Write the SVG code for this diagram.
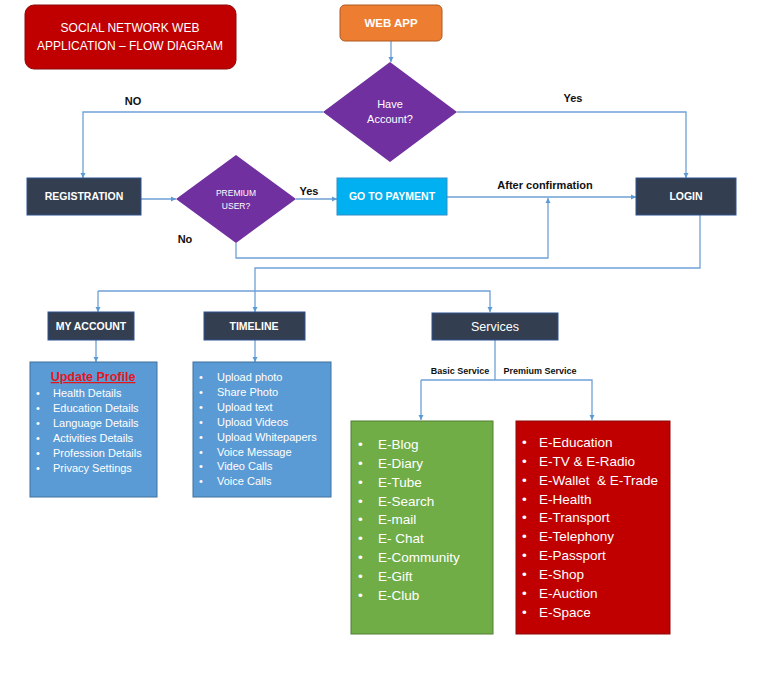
<svg xmlns="http://www.w3.org/2000/svg" width="768" height="677" viewBox="0 0 768 677">
<defs>
<marker id="ah" markerWidth="6" markerHeight="6" refX="5" refY="3" orient="auto" markerUnits="userSpaceOnUse">
<path d="M0,0.5 L5,3 L0,5.5 Z" fill="#5B9BD5"/>
</marker>
<style>
text{font-family:"Liberation Sans",Arial,sans-serif;}
.c{stroke:#6FA0D6;stroke-width:1.3;fill:none}
.a{marker-end:url(#ah)}
.w{fill:#fff;text-anchor:middle}
.b{font-weight:bold}
.lbl{fill:#111;font-weight:bold;font-size:11px;text-anchor:middle}
.dark{fill:#333F50;stroke:#2F528F;stroke-width:1}
.li{fill:#fff;font-size:11px}
.lg{fill:#fff;font-size:13.5px}
</style>
</defs>
<rect width="768" height="677" fill="#fff"/>

<g id="connectors">
<path class="c a" d="M391,41 V62"/>
<path class="c a" d="M323,112 H83 V178"/>
<path class="c a" d="M457,112 H686 V178"/>
<path class="c a" d="M141,199 H176"/>
<path class="c a" d="M296,199 H337"/>
<path class="c a" d="M447,197 H636"/>
<path class="c a" d="M236,243 V258 H548 V198"/>
<path class="c a" d="M700,215 V268 H255 V312"/>
<path class="c a" d="M98,291 H490 V312"/>
<path class="c a" d="M98,291 V312"/>
<path class="c a" d="M96,340 V362"/>
<path class="c a" d="M255,340 V362"/>
<path class="c" d="M495,340 V380"/>
<path class="c a" d="M421,380 H592 V420"/>
<path class="c a" d="M421,380 V420"/>
<text class="lbl" x="133" y="105">NO</text>
<text class="lbl" x="573" y="102">Yes</text>
<text class="lbl" x="309" y="195">Yes</text>
<text class="lbl" x="545" y="189">After confirmation</text>
<text class="lbl" x="185" y="243">No</text>
<text class="lbl" x="460" y="374" style="font-size:9px">Basic Service</text>
<text class="lbl" x="540" y="374" style="font-size:9px">Premium Service</text>
</g>

<g id="title">
<rect x="25" y="5" width="211" height="64" rx="9" fill="#C00000" stroke="#8B0A0A" stroke-width="1"/>
<text class="w" x="130" y="32" font-size="12">SOCIAL NETWORK WEB</text>
<text class="w" x="130" y="50" font-size="12">APPLICATION – FLOW DIAGRAM</text>
</g>

<g id="webapp">
<rect x="340" y="5" width="102" height="36" rx="5" fill="#ED7D31" stroke="#AE5A21" stroke-width="1"/>
<text class="w b" x="391" y="27" font-size="11.5">WEB APP</text>
</g>

<g id="have-account">
<polygon points="390,62 457,112 390,162 323,112" fill="#7030A0"/>
<text class="w" x="390" y="108" font-size="11">Have</text>
<text class="w" x="390" y="123" font-size="11">Account?</text>
</g>

<g id="registration">
<rect class="dark" x="27" y="178" width="114" height="37"/>
<text class="w b" x="84" y="200" font-size="10.5">REGISTRATION</text>
</g>

<g id="premium-user">
<polygon points="236,155 296,199 236,243 176,199" fill="#7030A0"/>
<text class="w" x="236" y="196" font-size="8.5" fill="#E8DDF2">PREMIUM</text>
<text class="w" x="236" y="209" font-size="8.5">USER?</text>
</g>

<g id="payment">
<rect x="337" y="178" width="110" height="37" fill="#00B0F0" stroke="#2E8FC9" stroke-width="1"/>
<text class="w b" x="392" y="200" font-size="10.5">GO TO PAYMENT</text>
</g>

<g id="login">
<rect class="dark" x="636" y="178" width="100" height="37"/>
<text class="w b" x="686" y="200" font-size="10.5">LOGIN</text>
</g>

<g id="my-account">
<rect class="dark" x="48" y="312" width="86" height="28"/>
<text class="w b" x="91" y="330" font-size="10.5">MY ACCOUNT</text>
</g>

<g id="timeline">
<rect class="dark" x="204" y="312" width="101" height="28"/>
<text class="w b" x="254" y="330" font-size="10.5">TIMELINE</text>
</g>

<g id="services">
<rect class="dark" x="432" y="313" width="126" height="27"/>
<text class="w" x="495" y="331" font-size="12.5">Services</text>
</g>

<g id="update-profile">
<rect x="30" y="362" width="127" height="135" fill="#5B9BD5" stroke="#41719C" stroke-width="1"/>
<text x="93" y="381" text-anchor="middle" font-size="12.5" font-weight="bold" fill="#E3161C" text-decoration="underline">Update Profile</text>
<g class="li">
<text x="36" y="397">•</text><text x="53" y="397">Health Details</text>
<text x="36" y="412">•</text><text x="53" y="412">Education Details</text>
<text x="36" y="427">•</text><text x="53" y="427">Language Details</text>
<text x="36" y="442">•</text><text x="53" y="442">Activities Details</text>
<text x="36" y="457">•</text><text x="53" y="457">Profession Details</text>
<text x="36" y="472">•</text><text x="53" y="472">Privacy Settings</text>
</g>
</g>

<g id="timeline-list">
<rect x="193" y="362" width="138" height="135" fill="#5B9BD5" stroke="#41719C" stroke-width="1"/>
<g class="li">
<text x="199" y="381">•</text><text x="217" y="381">Upload photo</text>
<text x="199" y="396">•</text><text x="217" y="396">Share Photo</text>
<text x="199" y="411">•</text><text x="217" y="411">Upload text</text>
<text x="199" y="426">•</text><text x="217" y="426">Upload Videos</text>
<text x="199" y="441">•</text><text x="217" y="441">Upload Whitepapers</text>
<text x="199" y="456">•</text><text x="217" y="456">Voice Message</text>
<text x="199" y="470">•</text><text x="217" y="470">Video Calls</text>
<text x="199" y="485">•</text><text x="217" y="485">Voice Calls</text>
</g>
</g>

<g id="basic-services">
<rect x="351" y="421" width="142" height="213" fill="#70AD47" stroke="#507E32" stroke-width="1"/>
<g class="lg">
<text x="358" y="449">•</text><text x="378" y="449">E-Blog</text>
<text x="358" y="468">•</text><text x="378" y="468">E-Diary</text>
<text x="358" y="487">•</text><text x="378" y="487">E-Tube</text>
<text x="358" y="506">•</text><text x="378" y="506">E-Search</text>
<text x="358" y="524">•</text><text x="378" y="524">E-mail</text>
<text x="358" y="543">•</text><text x="378" y="543">E- Chat</text>
<text x="358" y="562">•</text><text x="378" y="562">E-Community</text>
<text x="358" y="581">•</text><text x="378" y="581">E-Gift</text>
<text x="358" y="600">•</text><text x="378" y="600">E-Club</text>
</g>
</g>

<g id="premium-services">
<rect x="516" y="421" width="154" height="213" fill="#C00000" stroke="#8B0A0A" stroke-width="1"/>
<g class="lg">
<text x="522" y="447">•</text><text x="539" y="447">E-Education</text>
<text x="522" y="466">•</text><text x="539" y="466">E-TV &amp; E-Radio</text>
<text x="522" y="485">•</text><text x="539" y="485" xml:space="preserve">E-Wallet  &amp; E-Trade</text>
<text x="522" y="504">•</text><text x="539" y="504">E-Health</text>
<text x="522" y="522">•</text><text x="539" y="522">E-Transport</text>
<text x="522" y="541">•</text><text x="539" y="541">E-Telephony</text>
<text x="522" y="560">•</text><text x="539" y="560">E-Passport</text>
<text x="522" y="579">•</text><text x="539" y="579">E-Shop</text>
<text x="522" y="598">•</text><text x="539" y="598">E-Auction</text>
<text x="522" y="617">•</text><text x="539" y="617">E-Space</text>
</g>
</g>
</svg>
